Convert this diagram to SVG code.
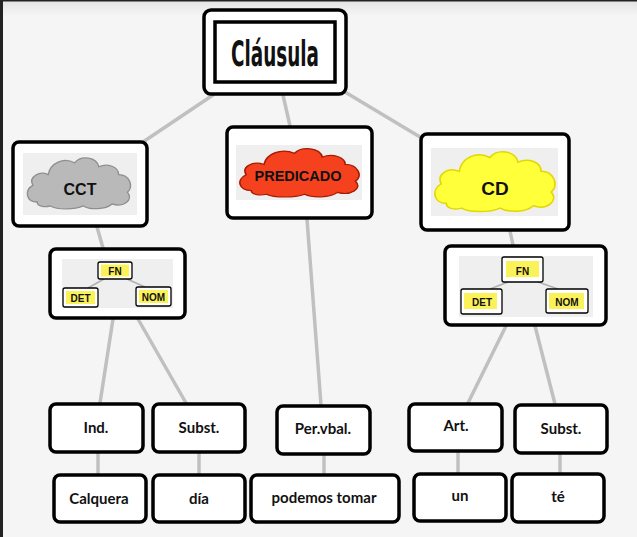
<svg xmlns="http://www.w3.org/2000/svg" width="637" height="537" viewBox="0 0 637 537">
<defs>
<linearGradient id="topg" x1="0" y1="0" x2="0" y2="1">
<stop offset="0" stop-color="#e2e2e2"/>
<stop offset="1" stop-color="#f5f5f5"/>
</linearGradient>
<path id="cloud" d="M 12,50 C 2,50 0,38 8,33 C 4,24 14,18 22,22 C 24,10 36,4 46,10 C 52,2 66,4 68,14 C 76,10 86,14 86,22 C 96,22 100,34 94,40 C 100,48 90,56 80,52 C 74,58 60,58 54,54 C 46,58 30,58 24,54 C 18,56 12,54 12,50 Z"/>
</defs>
<style>
.box{fill:#fff;stroke:#000;stroke-width:3.5}
.conn{stroke:#c0c0c0;stroke-width:3.5;fill:none;stroke-linecap:round}
.mini{stroke:#b0b0b0;stroke-width:1.5}
.lbl{font-family:Lato,"Open Sans","Liberation Sans",sans-serif;font-weight:700;font-size:15px;text-anchor:middle;fill:#111}
.cl{font-family:"Liberation Sans",Arial,sans-serif;font-weight:700;text-anchor:middle;fill:#111}
.bg{fill:#efefef}
.mb{fill:#fff;stroke:#000;stroke-width:1.3}
.hl{fill:#fbf25a}
.ml{font-family:"Liberation Sans",Arial,sans-serif;font-weight:700;font-size:10px;text-anchor:middle;fill:#111}
</style>
<rect x="0" y="0" width="637" height="537" fill="#f5f5f5"/>
<rect x="0" y="0" width="637" height="16" fill="url(#topg)"/>
<rect x="0" y="0" width="637" height="1.5" fill="#222"/>
<rect x="0" y="0" width="3" height="537" fill="#222"/>

<g id="connectors">
<line class="conn" x1="213" y1="95" x2="143" y2="142"/>
<line class="conn" x1="283" y1="95" x2="290" y2="126"/>
<line class="conn" x1="345" y1="92" x2="420" y2="137"/>
<line class="conn" x1="97" y1="227" x2="103" y2="248"/>
<line class="conn" x1="307" y1="219" x2="321" y2="405"/>
<line class="conn" x1="510" y1="231" x2="513" y2="245"/>
<line class="conn" x1="113" y1="319" x2="100" y2="403"/>
<line class="conn" x1="138" y1="319" x2="186" y2="403"/>
<line class="conn" x1="506" y1="326" x2="468" y2="403"/>
<line class="conn" x1="535" y1="326" x2="555" y2="404"/>
<line class="conn" x1="98" y1="452" x2="98" y2="474"/>
<line class="conn" x1="199" y1="452" x2="199" y2="474"/>
<line class="conn" x1="324" y1="454" x2="324" y2="474"/>
<line class="conn" x1="458" y1="451" x2="458" y2="473"/>
<line class="conn" x1="560" y1="453" x2="560" y2="473"/>
</g>

<g id="clausula">
<rect class="box" x="204" y="10" width="142" height="84" rx="7"/>
<rect x="215" y="22" width="120" height="60" fill="#fff" stroke="#000" stroke-width="3.5"/>
<text x="275" y="66" font-family="'DejaVu Sans Condensed','Liberation Sans Narrow',sans-serif" font-weight="700" font-size="36" text-anchor="middle" textLength="88" lengthAdjust="spacingAndGlyphs" fill="#111">Cláusula</text>
</g>

<g id="cct">
<rect class="box" x="13" y="142" width="134" height="84" rx="6"/>
<rect class="bg" x="23" y="153" width="114" height="62"/>
<use href="#cloud" transform="translate(24,153) scale(1.1,0.98)" fill="#b9b9b9" stroke="#8f8f8f" stroke-width="1.3" vector-effect="non-scaling-stroke"/>
<text class="cl" x="80" y="195" font-size="16">CCT</text>
</g>

<g id="predicado">
<rect class="box" x="227" y="127" width="145" height="91" rx="6"/>
<rect class="bg" x="236" y="145" width="126" height="55"/>
<use href="#cloud" transform="translate(236,144) scale(1.27,0.93)" fill="#f5411d" stroke="#a51c00" stroke-width="1.3" vector-effect="non-scaling-stroke"/>
<text class="cl" x="298" y="181" font-size="14.5">PREDICADO</text>
</g>

<g id="cd">
<rect class="box" x="421" y="134" width="148" height="96" rx="6"/>
<rect class="bg" x="431" y="148" width="127" height="68"/>
<use href="#cloud" transform="translate(431,146) scale(1.28,1.15)" fill="#ffff3a" stroke="#e2d700" stroke-width="1.3" vector-effect="non-scaling-stroke"/>
<text class="cl" x="495" y="195" font-size="19">CD</text>
</g>

<g id="fn-left">
<rect class="box" x="50" y="249" width="135" height="69" rx="6"/>
<rect class="bg" x="62" y="259" width="111" height="49"/>
<line class="mini" x1="104" y1="279" x2="88" y2="288"/>
<line class="mini" x1="127" y1="279" x2="145" y2="287"/>
<rect class="mb" x="98" y="262" width="34" height="17" rx="2"/>
<rect class="hl" x="101" y="264.5" width="28" height="12"/>
<text class="ml" x="115" y="274.5">FN</text>
<rect class="mb" x="63" y="288" width="35" height="19" rx="2"/>
<rect class="hl" x="66" y="291" width="29" height="13"/>
<text class="ml" x="80.5" y="301.5">DET</text>
<rect class="mb" x="136" y="287" width="35" height="19" rx="2"/>
<rect class="hl" x="139" y="290" width="29" height="13"/>
<text class="ml" x="153.5" y="300.5">NOM</text>
</g>

<g id="fn-right">
<rect class="box" x="445" y="246" width="161" height="79" rx="6"/>
<rect class="bg" x="459" y="256" width="134" height="61"/>
<line class="mini" x1="508" y1="282" x2="490" y2="289"/>
<line class="mini" x1="538" y1="282" x2="558" y2="289"/>
<rect class="mb" x="502" y="257" width="41" height="25" rx="2"/>
<rect class="hl" x="506" y="261" width="33" height="16"/>
<text class="ml" x="522.5" y="274.5" font-size="12">FN</text>
<rect class="mb" x="461" y="289" width="41" height="25" rx="2"/>
<rect class="hl" x="464" y="293" width="33" height="16"/>
<text class="ml" x="482" y="306" font-size="12">DET</text>
<rect class="mb" x="546" y="289" width="42" height="24" rx="2"/>
<rect class="hl" x="549" y="293" width="35" height="16"/>
<text class="ml" x="567" y="306" font-size="12">NOM</text>
</g>

<g id="ind"><rect class="box" x="50" y="404" width="93" height="48" rx="6"/><text class="lbl" x="96" y="433">Ind.</text></g>
<g id="subst1"><rect class="box" x="153" y="404" width="92" height="48" rx="6"/><text class="lbl" x="199" y="433">Subst.</text></g>
<g id="pervbal"><rect class="box" x="277" y="406" width="93" height="48" rx="6"/><text class="lbl" x="323" y="434">Per.vbal.</text></g>
<g id="art"><rect class="box" x="409" y="404" width="93" height="47" rx="6"/><text class="lbl" x="456" y="431">Art.</text></g>
<g id="subst2"><rect class="box" x="515" y="405" width="92" height="48" rx="6"/><text class="lbl" x="561" y="434">Subst.</text></g>

<g id="calquera"><rect class="box" x="54" y="475" width="92" height="47" rx="6"/><text class="lbl" x="99" y="504">Calquera</text></g>
<g id="dia"><rect class="box" x="153" y="475" width="92" height="47" rx="6"/><text class="lbl" x="199" y="504">día</text></g>
<g id="podemos"><rect class="box" x="251" y="475" width="148" height="47" rx="6"/><text class="lbl" x="324" y="503">podemos tomar</text></g>
<g id="un"><rect class="box" x="414" y="474" width="92" height="47" rx="6"/><text class="lbl" x="460" y="501">un</text></g>
<g id="te"><rect class="box" x="512" y="474" width="92" height="48" rx="6"/><text class="lbl" x="558" y="502">té</text></g>
</svg>
